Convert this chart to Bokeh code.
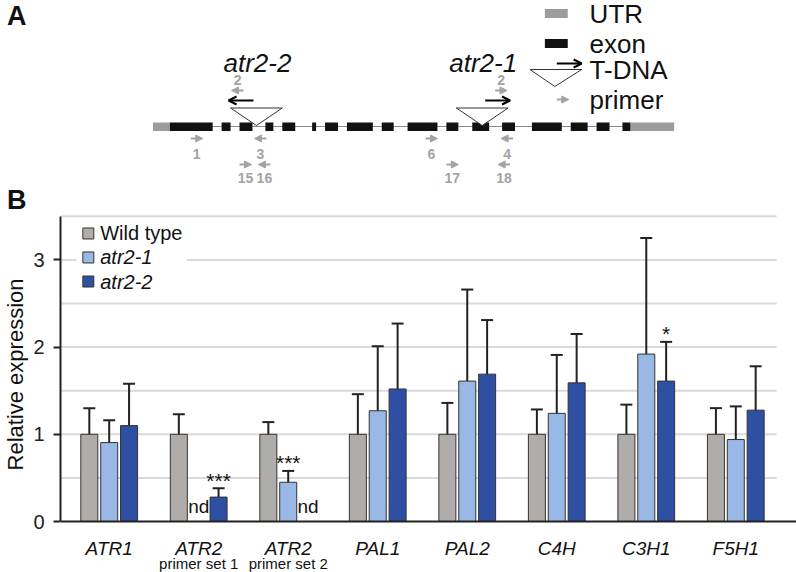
import math
from bokeh.plotting import figure
from bokeh.layouts import column
from bokeh.models import (Range1d, ColumnDataSource, Arrow, NormalHead, OpenHead, Whisker,
                          TeeHead, FixedTicker, Span)
from bokeh.core.properties import value
from bokeh.embed import file_html
from bokeh.resources import INLINE

FONT = "Liberation Sans"
NAN = float("nan")

# ---------------- Panel A data: gene model (diagram coordinates) ----------------
gene_start, gene_end = 149, 673
utr_starts = [149, 629]
utr_ends = [166, 673]
exon_starts = [166, 218, 236, 262, 279, 309, 322, 344, 379, 405, 444, 470, 500, 530, 569, 595, 621]
exon_ends = [209, 227, 249, 270, 292, 313, 335, 370, 391, 435, 456, 487, 513, 560, 586, 608, 629]
alleles = ["atr2-2", "atr2-1"]
insertion_pos = [253, 480]
tdna_dir = [-1, 1]
primer_names = ["2", "2", "1", "3", "6", "4", "15", "16", "17", "18"]
primer_pos = [234, 499, 193, 257, 429, 505, 242, 261, 450, 502]
primer_dir = [-1, 1, 1, -1, 1, -1, 1, -1, 1, -1]
primer_row = [0, 0, 1, 1, 1, 1, 2, 2, 2, 2]
legendA_labels = ["UTR", "exon", "T-DNA", "primer"]
panel_letters = ["A", "B"]

# ---------------- Panel B data: relative expression ----------------
genes = ["ATR1", "ATR2", "ATR2", "PAL1", "PAL2", "C4H", "C3H1", "F5H1"]
sublabels = ["", "primer set 1", "primer set 2", "", "", "", "", ""]
series = ["Wild type", "atr2-1", "atr2-2"]
wt_mean = [1.0, 1.0, 1.0, 1.0, 1.0, 1.0, 1.0, 1.0]
wt_lo = [0.70, 0.78, 0.855, 0.54, 0.64, 0.715, 0.66, 0.70]
wt_hi = [1.30, 1.23, 1.14, 1.46, 1.36, 1.285, 1.34, 1.30]
a1_mean = [0.905, 0.0, 0.45, 1.27, 1.61, 1.24, 1.92, 0.94]
a1_lo = [0.61, NAN, 0.32, 0.45, 0.56, 0.56, 0.60, 0.535]
a1_hi = [1.16, NAN, 0.58, 2.01, 2.66, 1.91, 3.25, 1.32]
a2_mean = [1.10, 0.28, 0.0, 1.52, 1.69, 1.59, 1.61, 1.277]
a2_lo = [0.61, 0.145, NAN, 0.73, 1.05, 1.01, 1.125, 0.75]
a2_hi = [1.58, 0.38, NAN, 2.27, 2.31, 2.15, 2.06, 1.78]
star_group = [1, 2, 6]
star_series = [2, 1, 2]
star_text = ["***", "***", "*"]

# ---------------- styles ----------------
GRAY_P = "#a3a3a3"
colors = ["#b0acaa", "#9ab8e6", "#2f4fa3"]
offsets = [-0.222, 0.0, 0.222]
BAR_W = 0.19
W = 796
LEFT = 56
HA = 214           # panel A height
HB = 320           # plot area height (214 .. 534)
HC = 38            # category label strip (534 .. 572)

# ================= Panel A figure (pixel-like diagram coordinates) =================
pA = figure(width=W, height=HA, x_range=Range1d(LEFT, W), y_range=Range1d(HA, 0),
            toolbar_location=None, output_backend="svg", min_border_left=LEFT,
            min_border_right=0, min_border_top=0, min_border_bottom=0,
            x_axis_location=None, outline_line_color=None)
pA.grid.visible = False
ya = pA.yaxis[0]
ya.ticker = FixedTicker(ticks=[15, 204])
ya.major_label_overrides = {15: panel_letters[0], 204: panel_letters[1]}
ya.axis_line_color = None
ya.major_tick_line_color = None
ya.minor_tick_line_color = None
ya.major_tick_out = 0
ya.major_tick_in = 0
ya.major_label_standoff = 34
ya.major_label_text_font = FONT
ya.major_label_text_font_size = "27px"
ya.major_label_text_font_style = "bold"
ya.major_label_text_color = "#111111"

GY = 126
pA.segment(x0=[gene_start], y0=[GY], x1=[gene_end], y1=[GY], line_color="#8c8c8c", line_width=1.2)
pA.quad(left=utr_starts, right=utr_ends, top=GY - 4, bottom=GY + 4.5, fill_color="#9c9c9c", line_color=None)
pA.quad(left=exon_starts, right=exon_ends, top=GY - 4, bottom=GY + 4.5, fill_color="#111111", line_color=None)

# insertions
tri_xs = [[p - 26, p + 26, p] for p in insertion_pos]
tri_ys = [[107.5, 107.5, GY - 1] for _ in insertion_pos]
pA.patches(xs=tri_xs, ys=tri_ys, fill_color="white", line_color="#333333", line_width=1)
tsrc = ColumnDataSource(dict(
    x0=[p + d * 3 for p, d in zip(insertion_pos, tdna_dir)],
    x1=[p + d * 28 for p, d in zip(insertion_pos, tdna_dir)],
    y=[100] * len(insertion_pos)))
pA.add_layout(Arrow(source=tsrc, x_start="x0", y_start="y", x_end="x1", y_end="y",
                    line_color="black", line_width=2,
                    end=OpenHead(size=8, line_color="black", line_width=2)))
pA.text(x=[p + 1 for p in insertion_pos], y=[62] * len(insertion_pos), text=alleles,
        text_font=value(FONT), text_font_size="26px", text_font_style="italic",
        text_align="center", text_baseline="middle", text_color="#111111")

# primers
row_arrow_y = [90, 138, 164]
row_label_y = [79, 153, 177]
psrc = ColumnDataSource(dict(
    x0=[p - d * 6 for p, d in zip(primer_pos, primer_dir)],
    x1=[p + d * 6 for p, d in zip(primer_pos, primer_dir)],
    y=[row_arrow_y[r] for r in primer_row]))
pA.add_layout(Arrow(source=psrc, x_start="x0", y_start="y", x_end="x1", y_end="y",
                    line_color=GRAY_P, line_width=2,
                    end=NormalHead(size=7, fill_color=GRAY_P, line_color=GRAY_P)))
pA.text(x=primer_pos, y=[row_label_y[r] for r in primer_row], text=primer_names,
        text_font=value(FONT), text_font_size="14px", text_font_style="bold",
        text_align="center", text_baseline="middle", text_color=GRAY_P)

# legend A
leg_y = [13, 43, 69, 99]
pA.quad(left=[543], right=[566], top=[leg_y[0] - 4.5], bottom=[leg_y[0] + 4.5], fill_color="#9c9c9c", line_color=None)
pA.quad(left=[543], right=[566], top=[leg_y[1] - 4.5], bottom=[leg_y[1] + 4.5], fill_color="#111111", line_color=None)
pA.patches(xs=[[528, 580, 553]], ys=[[leg_y[2], leg_y[2], leg_y[2] + 17]], fill_color="white",
           line_color="#333333", line_width=1)
lsrc = ColumnDataSource(dict(x0=[555], x1=[580], y=[leg_y[2] - 6]))
pA.add_layout(Arrow(source=lsrc, x_start="x0", y_start="y", x_end="x1", y_end="y",
                    line_color="black", line_width=2,
                    end=OpenHead(size=8, line_color="black", line_width=2)))
lsrc2 = ColumnDataSource(dict(x0=[555], x1=[567], y=[leg_y[3]]))
pA.add_layout(Arrow(source=lsrc2, x_start="x0", y_start="y", x_end="x1", y_end="y",
                    line_color=GRAY_P, line_width=2,
                    end=NormalHead(size=7, fill_color=GRAY_P, line_color=GRAY_P)))
pA.text(x=[588] * 4, y=leg_y, text=legendA_labels, text_font=value(FONT), text_font_size="26px",
        text_align="left", text_baseline="middle", text_color="#111111")

# ================= Panel B figure =================
UNIT = 87.2          # px per expression unit
ZERO_Y = 521 - HA    # zero line, px from top of panel B
X0 = -0.544
xr = Range1d(X0, X0 + (W - LEFT) / 90)
pB = figure(width=W, height=HB, x_range=xr,
            y_range=Range1d(-(HB - ZERO_Y) / UNIT, ZERO_Y / UNIT),
            toolbar_location=None, output_backend="svg", min_border_left=LEFT,
            min_border_right=0, min_border_top=0, min_border_bottom=0,
            x_axis_location=None, outline_line_color=None)
pB.grid.visible = False

grid_vals = [0.5, 1.0, 1.5, 2.0, 2.5, 3.0, 3.5]
pB.segment(x0=[X0] * len(grid_vals), x1=[7.456] * len(grid_vals), y0=grid_vals, y1=grid_vals,
           line_color="#dadada", line_width=2, level="underlay")

yax = pB.yaxis[0]
yax.ticker = FixedTicker(ticks=[0, 1, 2, 3])
yax.bounds = (0, 3.5)
yax.axis_line_width = 2
yax.axis_line_color = "#222222"
yax.major_tick_out = 7
yax.major_tick_in = 0
yax.major_tick_line_width = 2
yax.major_tick_line_color = "#222222"
yax.minor_tick_out = 0
yax.minor_tick_in = 0
yax.major_label_text_font = FONT
yax.major_label_text_font_size = "20px"
yax.major_label_text_color = "#222222"
yax.major_label_standoff = 9
yax.axis_label = "Relative expression"
yax.axis_label_text_font = FONT
yax.axis_label_text_font_size = "22px"
yax.axis_label_text_font_style = "normal"
yax.axis_label_text_color = "#111111"
yax.axis_label_standoff = 2

means = [wt_mean, a1_mean, a2_mean]
los = [wt_lo, a1_lo, a2_lo]
his = [wt_hi, a1_hi, a2_hi]
n = len(genes)
for s in range(3):
    xs = [i + offsets[s] for i in range(n)]
    pB.vbar(x=xs, top=means[s], bottom=0, width=BAR_W, fill_color=colors[s],
            line_color="#333333", line_width=1)
    keep = [i for i in range(n) if not math.isnan(los[s][i])]
    wsrc = ColumnDataSource(dict(x=[xs[i] for i in keep], lo=[los[s][i] for i in keep],
                                 hi=[his[s][i] for i in keep]))
    pB.add_layout(Whisker(source=wsrc, base="x", lower="lo", upper="hi",
                          line_color="#222222", line_width=2,
                          upper_head=TeeHead(size=12, line_color="#222222", line_width=2),
                          lower_head=TeeHead(size=12, line_color="#222222", line_width=2)))

pB.add_layout(Span(location=0, dimension="width", line_color="#222222", line_width=2))

# nd labels
nd_x = [i + offsets[s] for s in range(3) for i in range(n) if math.isnan(los[s][i])]
pB.text(x=nd_x, y=[0] * len(nd_x), text=["nd"] * len(nd_x), y_offset=-15,
        text_font=value(FONT), text_font_size="19px", text_align="center",
        text_baseline="middle", text_color="#111111")
# significance
st_x = [g + offsets[s] for g, s in zip(star_group, star_series)]
st_y = [his[s][g] for g, s in zip(star_group, star_series)]
pB.text(x=st_x, y=st_y, text=star_text, y_offset=-8, text_font=value(FONT),
        text_font_size="21px", text_align="center", text_baseline="middle",
        text_color="#111111")

# legend B
pB.quad(left=[-0.367], right=[0.867], top=[3.45], bottom=[2.63], fill_color="white", line_color=None)
leg_rows = [3.303, 3.028, 2.752]
pB.scatter(x=[-0.233] * 3, y=leg_rows, marker="square", size=11, fill_color=colors,
           line_color="#333333", line_width=1)
pB.text(x=[-0.1], y=[leg_rows[0]], text=[series[0]], text_font=value(FONT), text_font_size="20px",
        text_align="left", text_baseline="middle", text_color="#111111")
pB.text(x=[-0.1, -0.1], y=leg_rows[1:], text=series[1:], text_font=value(FONT),
        text_font_size="20px", text_font_style="italic", text_align="left",
        text_baseline="middle", text_color="#111111")

# ================= category label strip =================
TOP_C = HA + HB
pC = figure(width=W, height=HC, x_range=xr, y_range=Range1d(TOP_C + HC, TOP_C),
            toolbar_location=None, output_backend="svg", min_border_left=LEFT,
            min_border_right=0, min_border_top=0, min_border_bottom=0,
            x_axis_location=None, y_axis_location=None, outline_line_color=None)
pC.grid.visible = False
pC.text(x=list(range(n)), y=[548] * n, text=genes, text_font=value(FONT),
        text_font_size="19px", text_font_style="italic", text_align="center",
        text_baseline="middle", text_color="#111111")
pC.text(x=list(range(n)), y=[563] * n, text=sublabels, text_font=value(FONT),
        text_font_size="15px", text_align="center", text_baseline="middle",
        text_color="#111111")

layout = column(pA, pB, pC, spacing=0)
open("out.html", "w").write(file_html(layout, INLINE))
